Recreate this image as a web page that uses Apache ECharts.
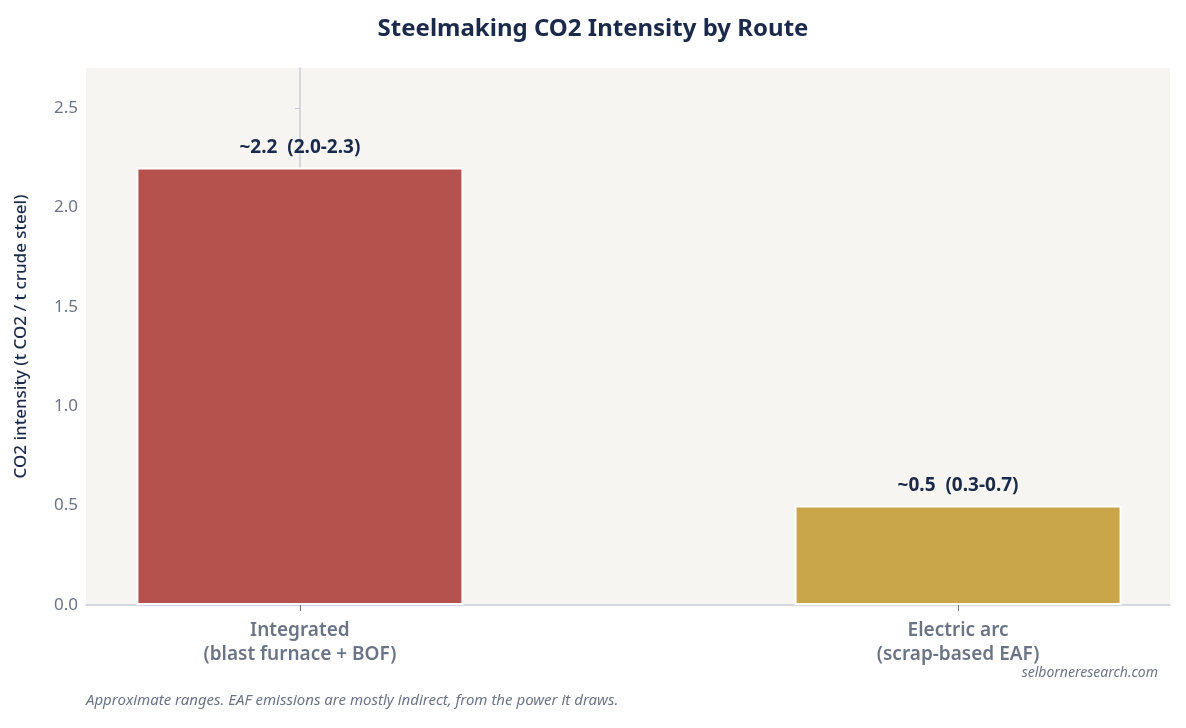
<!DOCTYPE html>
<html>
<head>
<meta charset="utf-8">
<script src="https://cdn.jsdelivr.net/npm/echarts@6/dist/echarts.min.js"></script>
<style>
  html, body { margin: 0; padding: 0; background: #fff; }
  #chart { width: 1186px; height: 728px; }
</style>
</head>
<body>
<div id="chart"></div>
<script>
// data
const routes = ['Integrated\n(blast furnace + BOF)', 'Electric arc\n(scrap-based EAF)'];
const intensity = [2.2, 0.5];
const ranges = ['2.0-2.3', '0.3-0.7'];
const barColors = ['#B5524E', '#C9A64A'];
const yTicks = [0, 0.5, 1, 1.5, 2, 2.5];

const chart = echarts.init(document.getElementById('chart'));
const font = '"Noto Sans", "Open Sans", sans-serif';

chart.setOption({
  textStyle: { fontFamily: font },
  title: {
    text: 'Steelmaking CO2 Intensity by Route',
    left: 'center', top: 12,
    textStyle: { fontSize: 24, fontWeight: 'bold', color: '#1b2a4a', fontFamily: font }
  },
  grid: {
    left: 86, right: 16, top: 68, bottom: 123,
    show: true, backgroundColor: '#F6F5F2', borderWidth: 0
  },
  xAxis: {
    type: 'value',
    min: -0.325, max: 1.322,
    splitLine: { show: false },
    axisLine: { lineStyle: { color: '#c8ccd6', width: 1.5 } },
    axisTick: { show: true, customValues: [0, 1], length: 6, lineStyle: { color: '#6b7485' } },
    axisLabel: {
      customValues: [0, 1],
      formatter: v => routes[Math.round(v)],
      color: '#6b7485', fontSize: 19, fontWeight: 600, lineHeight: 24, margin: 14
    }
  },
  yAxis: {
    type: 'value',
    min: 0, max: 2.7,
    name: 'CO2 intensity (t CO2 / t crude steel)',
    nameLocation: 'middle', nameGap: 56,
    nameTextStyle: { color: '#1b2a4a', fontSize: 17, fontWeight: 500 },
    axisLine: { show: true, lineStyle: { color: '#c8ccd6', width: 1.5 } },
    axisTick: { show: true, customValues: yTicks, lineStyle: { color: '#c8ccd6' } },
    splitLine: { show: false },
    axisLabel: { customValues: yTicks, color: '#6b7485', fontSize: 17, formatter: v => v.toFixed(1) }
  },
  series: [{
    type: 'bar',
    barWidth: 327,
    data: intensity.map((v, i) => ({
      value: [i, v],
      itemStyle: { color: barColors[i], borderColor: '#fff', borderWidth: 2 }
    })),
    label: {
      show: true, position: 'top', distance: 10,
      color: '#1b2a4a', fontSize: 19, fontWeight: 'bold',
      formatter: p => '~' + p.value[1].toFixed(1) + '  (' + ranges[p.dataIndex] + ')'
    }
  }],
  graphic: [
    {
      type: 'text', right: 28, top: 666,
      style: { text: 'selborneresearch.com', fill: '#6b7485', font: 'italic 14px ' + font }
    },
    {
      type: 'text', left: 86, top: 693,
      style: { text: 'Approximate ranges. EAF emissions are mostly indirect, from the power it draws.', fill: '#6b7485', font: 'italic 15px ' + font }
    }
  ]
});
</script>
</body>
</html>
